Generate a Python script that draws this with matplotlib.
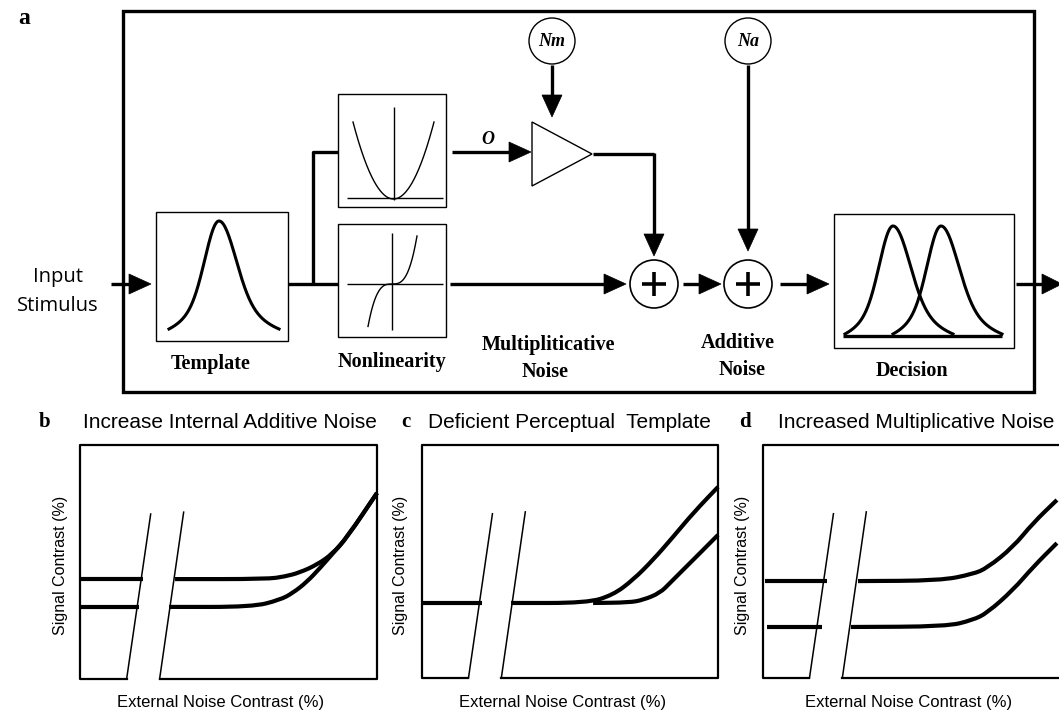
import numpy as np
import matplotlib
matplotlib.use('Agg')
import matplotlib.pyplot as plt
from matplotlib.patches import Rectangle, Circle, Polygon, PathPatch
from matplotlib.path import Path

W, H = 1059, 712

# ---------------- data ----------------
panel_letters = ['b', 'c', 'd']
panel_titles = ['Increase Internal Additive Noise',
                'Deficient Perceptual  Template',
                'Increased Multiplicative Noise']
x_label = 'External Noise Contrast (%)'
y_label = 'Signal Contrast (%)'

# normalized external noise (u) / normalized threshold (v)
# panel b: increased internal additive noise
b_left_level = [0.427, 0.308]
b_left_start = [0.0, 0.0]
b_left_end = [0.212, 0.199]
b_upper_u = [0.320, 0.630, 0.690, 0.740, 0.800, 0.850, 0.899, 1.0]
b_upper_v = [0.427, 0.427, 0.438, 0.455, 0.490, 0.535, 0.605, 0.795]
b_lower_u = [0.300, 0.580, 0.673, 0.717, 0.764, 0.808, 0.852, 0.899, 1.0]
b_lower_v = [0.308, 0.308, 0.338, 0.368, 0.415, 0.474, 0.538, 0.605, 0.795]

# panel c: deficient perceptual template
c_left_level = [0.322]
c_left_start = [0.0]
c_left_end = [0.203]
c_upper_u = [0.301, 0.557, 0.645, 0.713, 0.780, 0.848, 0.916, 1.0]
c_upper_v = [0.322, 0.322, 0.356, 0.421, 0.506, 0.605, 0.708, 0.820]
c_lower_u = [0.578, 0.700, 0.747, 0.804, 0.838, 0.882, 0.939, 1.0]
c_lower_v = [0.322, 0.324, 0.335, 0.365, 0.408, 0.464, 0.536, 0.614]

# panel d: increased multiplicative noise
d_left_level = [0.416, 0.219]
d_left_start = [0.007, 0.014]
d_left_end = [0.216, 0.200]
d_upper_u = [0.321, 0.598, 0.709, 0.757, 0.845, 0.912, 0.993]
d_upper_v = [0.416, 0.418, 0.446, 0.472, 0.562, 0.665, 0.764]
d_lower_u = [0.297, 0.620, 0.709, 0.757, 0.845, 0.912, 0.993]
d_lower_v = [0.219, 0.221, 0.249, 0.279, 0.378, 0.476, 0.579]

# ---------------- figure ----------------
fig = plt.figure(figsize=(W / 100, H / 100), dpi=100)
ax = fig.add_axes([0, 0, 1, 1])
ax.set_xlim(0, W)
ax.set_ylim(H, 0)
ax.axis('off')

K = 'black'
SERIF = 'Liberation Serif'
SANS = 'Liberation Sans'
THICK = 2.4
THIN = 1.0


def seg(xs, ys, lw=THICK, **kw):
    ax.plot(xs, ys, color=K, lw=lw, solid_capstyle='butt', **kw)


def arrow(x0, y0, x1, y1, hl=22, hw=10, lw=THICK):
    d = np.hypot(x1 - x0, y1 - y0)
    ux, uy = (x1 - x0) / d, (y1 - y0) / d
    bx, by = x1 - ux * hl, y1 - uy * hl
    seg([x0, bx], [y0, by], lw=lw)
    px, py = -uy, ux
    ax.add_patch(Polygon([[x1, y1], [bx + px * hw, by + py * hw],
                          [bx - px * hw, by - py * hw]], closed=True,
                         facecolor=K, edgecolor=K, lw=0.5))


def bump(x, peak, left, right):
    # bell-shaped icon curve (narrow core + broad tail)
    t = np.where(x < peak, (x - peak) / (peak - left), (x - peak) / (right - peak))
    return 0.70 * np.exp(-t ** 2 / (2 * 0.27 ** 2)) + 0.30 * np.exp(-t ** 2 / (2 * 0.62 ** 2))


def smooth_path(u, v):
    pts = np.column_stack([u, v])
    verts = [pts[0], (pts[0] + pts[1]) / 2]
    codes = [Path.MOVETO, Path.LINETO]
    for i in range(1, len(pts) - 1):
        verts += [pts[i], (pts[i] + pts[i + 1]) / 2]
        codes += [Path.CURVE3, Path.CURVE3]
    verts.append(pts[-1])
    codes.append(Path.LINETO)
    return Path(verts, codes)


# panel letter a
ax.text(24, 24, 'a', fontfamily=SERIF, fontweight='bold', fontsize=17, ha='center', va='baseline')

# main frame
ax.add_patch(Rectangle((123, 11), 1034 - 123, 392 - 11, fill=False, ec=K, lw=THICK))

# input
ax.text(58, 277, 'Input', fontfamily='Open Sans', fontsize=14.5, ha='center', va='center')
ax.text(58, 306, 'Stimulus', fontfamily='Open Sans', fontsize=14.5, ha='center', va='center')
arrow(111, 284, 151, 284)

# template box
ax.add_patch(Rectangle((156, 212), 288 - 156, 341 - 212, fill=False, ec=K, lw=THIN))
xs = np.linspace(169, 279, 200)
h = bump(xs, 219, 169, 279)
h = (h - h.min()) / (h.max() - h.min())
ax.plot(xs, 329 - h * (329 - 221), color=K, lw=2.2)
ax.text(211, 364, 'Template', fontfamily=SERIF, fontweight='bold', fontsize=14.5,
        ha='center', va='center')

# connectors to nonlinearities
seg([288, 338], [284, 284])
seg([313, 313, 338], [284, 152, 152])

# top nonlinearity (square law)
ax.add_patch(Rectangle((338, 94), 446 - 338, 207 - 94, fill=False, ec=K, lw=THIN))
seg([394, 394], [107, 200], lw=THIN)
seg([347, 443], [198, 198], lw=THIN)
xs = np.linspace(353, 434, 200)
ax.plot(xs, 199 - 77 * ((xs - 393.5) / 40.5) ** 2, color=K, lw=THIN)

# bottom nonlinearity (cubic)
ax.add_patch(Rectangle((338, 224), 446 - 338, 337 - 224, fill=False, ec=K, lw=THIN))
seg([392, 392], [233, 330], lw=THIN)
seg([347, 443], [284, 284], lw=THIN)
xs = np.linspace(368, 417, 200)
ax.plot(xs, 284 - 48 * ((xs - 392) / 25) ** 3, color=K, lw=THIN)
ax.text(392, 362, 'Nonlinearity', fontfamily=SERIF, fontweight='bold', fontsize=14.5,
        ha='center', va='center')

# O path to amplifier
ax.text(488, 139, 'O', fontfamily=SERIF, fontweight='bold', fontstyle='italic', fontsize=13,
        ha='center', va='center')
arrow(452, 152, 531, 152)

# multiplicative noise source and amplifier
ax.add_patch(Circle((552, 41), 23, fill=False, ec=K, lw=THIN))
ax.text(552, 42, 'Nm', fontfamily=SERIF, fontweight='bold', fontstyle='italic', fontsize=13,
        ha='center', va='center')
arrow(552, 65, 552, 117)
ax.add_patch(Polygon([[532, 122], [532, 186], [592, 154]], closed=True, fill=False, ec=K, lw=THIN))
seg([593, 654], [154, 154])
arrow(654, 153, 654, 256)

# main path to first summation
arrow(450, 284, 626, 284)
ax.add_patch(Circle((654, 284), 24, fill=False, ec=K, lw=1.2))
seg([642, 666], [284, 284], lw=2.6)
seg([654, 654], [272, 296], lw=2.6)
ax.text(548, 345, 'Multipliticative', fontfamily=SERIF, fontweight='bold', fontsize=14.5,
        ha='center', va='center')
ax.text(545, 372, 'Noise', fontfamily=SERIF, fontweight='bold', fontsize=14.5,
        ha='center', va='center')

# second summation (additive noise)
arrow(683, 284, 721, 284)
ax.add_patch(Circle((748, 284), 24, fill=False, ec=K, lw=1.2))
seg([736, 760], [284, 284], lw=2.6)
seg([748, 748], [272, 296], lw=2.6)
ax.add_patch(Circle((748, 41), 23, fill=False, ec=K, lw=THIN))
ax.text(748, 42, 'Na', fontfamily=SERIF, fontweight='bold', fontstyle='italic', fontsize=13,
        ha='center', va='center')
arrow(748, 65, 748, 251)
ax.text(738, 343, 'Additive', fontfamily=SERIF, fontweight='bold', fontsize=14.5,
        ha='center', va='center')
ax.text(742, 370, 'Noise', fontfamily=SERIF, fontweight='bold', fontsize=14.5,
        ha='center', va='center')

# decision
arrow(780, 284, 829, 284)
ax.add_patch(Rectangle((834, 214), 1014 - 834, 348 - 214, fill=False, ec=K, lw=THIN))
seg([843, 1002], [336, 336])
for pk, lo, hi in [(893, 845, 953), (941, 893, 1002)]:
    xs = np.linspace(lo, hi, 200)
    h = bump(xs, pk, lo, hi)
    h = (h - h.min()) / (h.max() - h.min())
    ax.plot(xs, 334 - h * (334 - 226), color=K, lw=2.2)
ax.text(912, 371, 'Decision', fontfamily=SERIF, fontweight='bold', fontsize=14.5,
        ha='center', va='center')
arrow(1016, 284, 1062, 284, hl=20)

# ---------------- TvC panels ----------------
panels = [
    dict(rect=(80, 445, 297, 234), title_x=83, letter_x=45, ylab_x=61, xlab_x=221, right=True,
         lv=b_left_level, ls=b_left_start, le=b_left_end,
         curves=[(b_upper_u, b_upper_v), (b_lower_u, b_lower_v)]),
    dict(rect=(422, 445, 296, 233), title_x=428, letter_x=406, ylab_x=401, xlab_x=563, right=True,
         lv=c_left_level, ls=c_left_start, le=c_left_end,
         curves=[(c_upper_u, c_upper_v), (c_lower_u, c_lower_v)]),
    dict(rect=(763, 445, 296, 233), title_x=778, letter_x=745, ylab_x=743, xlab_x=909, right=False,
         lv=d_left_level, ls=d_left_start, le=d_left_end,
         curves=[(d_upper_u, d_upper_v), (d_lower_u, d_lower_v)]),
]

for i, p in enumerate(panels):
    x0, y0, w, hgt = p['rect']
    pax = fig.add_axes([x0 / W, (H - y0 - hgt) / H, w / W, hgt / H])
    pax.set_xlim(0, 1)
    pax.set_ylim(0, 1)
    pax.axis('off')
    fr = dict(color=K, lw=1.6, clip_on=False, solid_capstyle='projecting')
    if p['right']:
        pax.plot([0.268, 1, 1, 0, 0, 0.157], [0, 0, 1, 1, 0, 0], **fr)
    else:
        pax.plot([1.0, 0.268], [0, 0], **fr)
        pax.plot([1.0, 0, 0, 0.157], [1, 1, 0, 0], **fr)
    pax.plot([0.157, 0.238], [0, 0.705], color=K, lw=1.1, clip_on=False)
    pax.plot([0.268, 0.349], [0, 0.713], color=K, lw=1.1, clip_on=False)
    for lv, ls, le in zip(p['lv'], p['ls'], p['le']):
        pax.plot([ls, le], [lv, lv], color=K, lw=3.0, solid_capstyle='butt', clip_on=False)
    for cu, cv in p['curves']:
        pax.add_patch(PathPatch(smooth_path(cu, cv), fill=False, ec=K, lw=3.0,
                                capstyle='butt', joinstyle='round', clip_on=False))

    ax.text(p['letter_x'], 427, panel_letters[i], fontfamily=SERIF, fontweight='bold',
            fontsize=15, ha='center', va='baseline')
    ax.text(p['title_x'], 428, panel_titles[i], fontfamily=SANS, fontsize=15,
            ha='left', va='baseline')
    ax.text(p['ylab_x'], 565, y_label, fontfamily=SANS, fontsize=11.5, rotation=90,
            ha='center', va='center')
    ax.text(p['xlab_x'], 702, x_label, fontfamily=SANS, fontsize=12,
            ha='center', va='center')

fig.savefig('out.png', dpi=100)
